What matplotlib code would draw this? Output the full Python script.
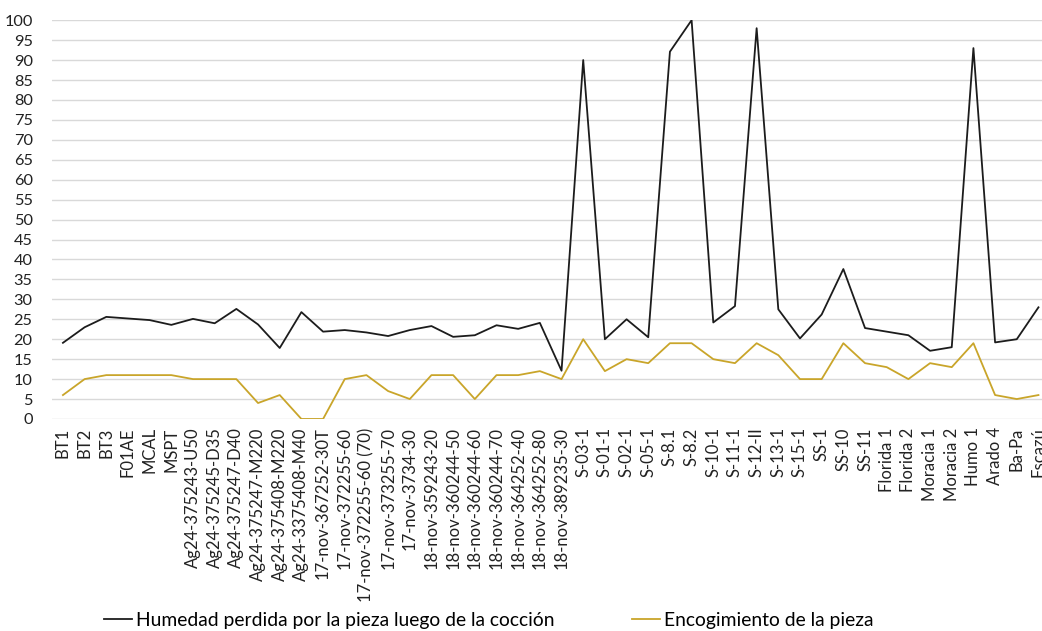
import matplotlib.pyplot as plt

plt.rcParams['font.family'] = ['Lato', 'DejaVu Sans']

muestras = ['BT1', 'BT2', 'BT3', 'F01AE', 'MCAL', 'MSPT',
            'Ag24-375243-U50', 'Ag24-375245-D35', 'Ag24-375247-D40',
            'Ag24-375247-M220', 'Ag24-375408-M220', 'Ag24-3375408-M40',
            '17-nov-367252-30T', '17-nov-372255-60', '17-nov-372255-60 (70)',
            '17-nov-373255-70', '17-nov-3734-30', '18-nov-359243-20',
            '18-nov-360244-50', '18-nov-360244-60', '18-nov-360244-70',
            '18-nov-364252-40', '18-nov-364252-80', '18-nov-389235-30',
            'S-03-1', 'S-01-1', 'S-02-1', 'S-05-1', 'S-8.1', 'S-8.2',
            'S-10-1', 'S-11-1', 'S-12-II', 'S-13-1', 'S-15-1', 'SS-1',
            'SS-10', 'SS-11', 'Florida 1', 'Florida 2', 'Moracia 1',
            'Moracia 2', 'Humo 1', 'Arado 4', 'Ba-Pa', 'Escazú']

humedad = [19.1, 23.0, 25.6, 25.2, 24.8, 23.6, 25.1, 24.0, 27.6, 23.7,
           17.8, 26.8, 21.9, 22.3, 21.7, 20.8, 22.3, 23.3, 20.6, 21.0,
           23.5, 22.6, 24.1, 12.1, 90.0, 20.0, 25.0, 20.5, 92.1, 100.0,
           24.2, 28.3, 98.0, 27.5, 20.2, 26.2, 37.6, 22.8, 21.9, 21.0,
           17.1, 18.0, 93.0, 19.2, 20.0, 28.0]

encogimiento = [6, 10, 11, 11, 11, 11, 10, 10, 10, 4,
                6, 0, 0, 10, 11, 7, 5, 11, 11, 5,
                11, 11, 12, 10, 20, 12, 15, 14, 19, 19,
                15, 14, 19, 16, 10, 10, 19, 14, 13, 10,
                14, 13, 19, 6, 5, 6]

fig = plt.figure(figsize=(10.42, 6.31), dpi=100)
# el eje se sale un poco por la derecha (Escazú queda cortado)
ax = fig.add_axes([0.05, 0.336, 0.957, 0.632])

x = range(len(muestras))
ax.plot(x, humedad, color='#1c1c1c', linewidth=1.3,
        label='Humedad perdida por la pieza luego de la cocción')
ax.plot(x, encogimiento, color='#c9a52a', linewidth=1.3,
        label='Encogimiento de la pieza')

ax.set_xlim(-0.5, len(muestras) - 0.5)
ax.set_ylim(0, 100)
ax.set_yticks(range(0, 101, 5))
ax.set_xticks(list(x))
ax.set_xticklabels(muestras, rotation=90, fontsize=12)
ax.tick_params(axis='both', length=0, colors='#222222')
ax.tick_params(axis='y', pad=14, labelsize=11.8)
ax.tick_params(axis='x', pad=6)
ax.grid(axis='y', color='#d9d9d9', linewidth=1)
ax.set_axisbelow(True)
for s in ax.spines.values():
    s.set_visible(False)

fig.legend(loc='center left', bbox_to_anchor=(0.1, 0.017), ncol=2,
           frameon=False, fontsize=13.9, handlelength=1.45, handletextpad=0.2,
           columnspacing=4.0, borderpad=0, borderaxespad=0)

fig.savefig('out.png', dpi=100)
